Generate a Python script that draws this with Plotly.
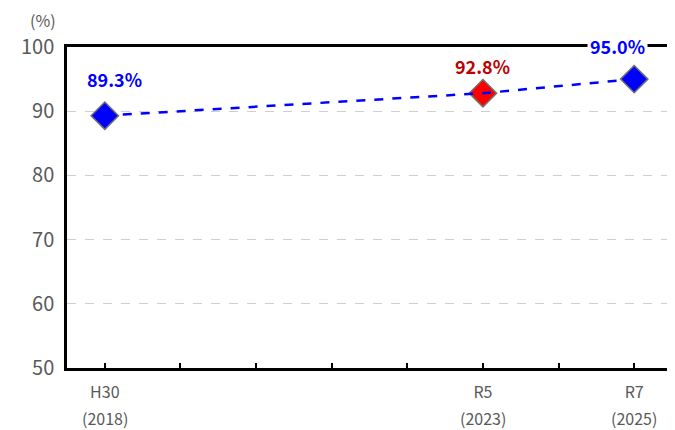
import plotly.graph_objects as go

# dados
anos = [2018, 2023, 2025]
valores = [89.3, 92.8, 95.0]
rotulos_era = ['H30', 'R5', 'R7']
rotulos_ano = ['(2018)', '(2023)', '(2025)']
cores_marcador = ['#0000FF', '#FF0000', '#0000FF']
cores_texto = ['#0000FF', '#C00000', '#0000FF']
todos_anos = list(range(2018, 2026))

fonte = 'Noto Sans CJK JP'
cinza = '#595959'

fig = go.Figure()

# marcadores primeiro, linha tracejada por cima
fig.add_trace(go.Scatter(x=anos, y=valores, mode='markers',
                         marker=dict(symbol='diamond', size=21, color=cores_marcador,
                                     line=dict(color='#6F6F6F', width=1.5)),
                         showlegend=False, hoverinfo='skip'))
fig.add_trace(go.Scatter(x=anos, y=valores, mode='lines',
                         line=dict(color='#0000FF', width=2.5, dash='dash'),
                         showlegend=False, hoverinfo='skip'))

# rótulos de valores (deslocamento em pixels)
desloc = [(10, 37), (0, 27), (-17, 33)]
for ano, val, cor, (dx, dy) in zip(anos, valores, cores_texto, desloc):
    fig.add_annotation(x=ano, y=val, xshift=dx, yshift=dy, text=f'{val:.1f}%',
                       showarrow=False, xanchor='center', yanchor='middle',
                       font=dict(family=fonte, size=18, color=cor, weight='bold'),
                       bgcolor='white' if ano == 2025 else 'rgba(0,0,0,0)',
                       borderpad=2)

# segunda linha dos rótulos do eixo x
for ano, txt in zip(anos, rotulos_ano):
    fig.add_annotation(x=ano, xref='x', y=-0.155, yref='paper',
                       xanchor='center', yanchor='middle',
                       text=txt, showarrow=False,
                       font=dict(family=fonte, size=16, color=cinza))

fig.add_annotation(x=-0.04, xref='paper', y=1.085, yref='paper', text='(%)',
                   xanchor='center', yanchor='middle',
                   showarrow=False, font=dict(family=fonte, size=16, color=cinza))

ticktext = [rotulos_era[anos.index(a)] if a in anos else '' for a in todos_anos]

# a página tem 8px de margem no body, por isso a figura é um pouco menor
fig.update_layout(width=667, height=422,
                  margin=dict(l=59, r=0, t=39, b=62),
                  paper_bgcolor='white', plot_bgcolor='white',
                  font=dict(family=fonte, color=cinza),
                  xaxis=dict(range=[2017.5, 2025.5], tickvals=todos_anos, ticktext=ticktext,
                             ticks='inside', ticklen=5, tickwidth=1.5, tickcolor='black',
                             showline=True, linecolor='black', linewidth=2.5, mirror=True,
                             showgrid=False, zeroline=False,
                             tickfont=dict(family=fonte, size=16, color=cinza),
                             ticklabelstandoff=8),
                  yaxis=dict(range=[50, 100], tickvals=[50, 60, 70, 80, 90, 100],
                             showline=True, linecolor='black', linewidth=2.5, mirror=True,
                             showgrid=True, gridcolor='#CFCFCF', griddash='dash', gridwidth=1,
                             zeroline=False, ticks='',
                             tickfont=dict(family=fonte, size=20, color=cinza),
                             ticklabelstandoff=6))

fig.write_html('out.html')
